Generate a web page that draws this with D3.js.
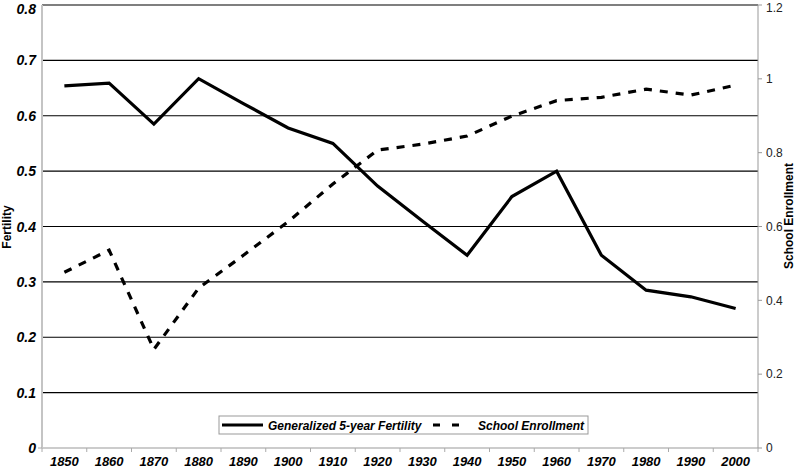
<!DOCTYPE html>
<html><head><meta charset="utf-8">
<script src="https://cdn.jsdelivr.net/npm/d3@7"></script>
<style>body{margin:0;background:#fff}svg{display:block;font-family:"Liberation Sans",Arial,sans-serif}</style>
</head><body><svg id="c" width="800" height="470"></svg>
<script>
const years = ["1850","1860","1870","1880","1890","1900","1910","1920","1930","1940","1950","1960","1970","1980","1990","2000"];
const fertility = [0.654,0.659,0.585,0.667,0.622,0.578,0.550,0.473,0.410,0.348,0.454,0.500,0.348,0.285,0.273,0.252];
const enrollment = [0.476,0.536,0.267,0.433,0.522,0.613,0.715,0.807,0.823,0.845,0.899,0.941,0.950,0.972,0.956,0.983];
const leftTicks = [0,0.1,0.2,0.3,0.4,0.5,0.6,0.7,0.8];
const rightTicks = [0,0.2,0.4,0.6,0.8,1,1.2];

const svg = d3.select("#c");
const L=42,R=758,T=5,B=448;
const x = d3.scaleBand().domain(years).range([L,R]);
const yL = d3.scaleLinear().domain([0,0.8]).range([B,T]);
const yR = d3.scaleLinear().domain([0,1.2]).range([B,T]);
const cx = d => x(d)+x.bandwidth()/2;

// gridlines
svg.append("g").selectAll("line").data(leftTicks.filter(d=>d>0)).join("line")
  .attr("x1",L).attr("x2",R).attr("y1",d=>yL(d)).attr("y2",d=>yL(d))
  .attr("stroke","#000").attr("stroke-width",1.2);

// axes lines
svg.append("line").attr("x1",L).attr("x2",R).attr("y1",B).attr("y2",B).attr("stroke","#bbb").attr("stroke-width",1.5);
svg.append("line").attr("x1",L).attr("x2",L).attr("y1",T).attr("y2",B).attr("stroke","#c4c4c4").attr("stroke-width",2);
svg.append("line").attr("x1",R).attr("x2",R).attr("y1",T).attr("y2",B).attr("stroke","#999").attr("stroke-width",1);

// x ticks at band boundaries
const bounds = years.map(d=>x(d)).concat([R]);
svg.append("g").selectAll("line").data(bounds).join("line")
  .attr("x1",d=>d).attr("x2",d=>d).attr("y1",B).attr("y2",B+4).attr("stroke","#aaa");
svg.append("line").attr("x1",L-4).attr("x2",L).attr("y1",B).attr("y2",B).attr("stroke","#aaa");

// x labels
svg.append("g").selectAll("text").data(years).join("text")
  .attr("x",d=>cx(d)).attr("y",466).attr("text-anchor","middle")
  .attr("font-size",13).attr("font-weight","bold").attr("font-style","italic").text(d=>d);

// left labels
svg.append("g").selectAll("text").data(leftTicks).join("text")
  .attr("x",36).attr("y",d=>Math.max(yL(d)+5,13.5)).attr("text-anchor","end")
  .attr("font-size",14).attr("font-weight","bold").attr("font-style","italic").text(d=>d===0?"0":d3.format(".1f")(d));

// right ticks and labels
svg.append("g").selectAll("line").data(rightTicks).join("line")
  .attr("x1",R).attr("x2",R+4).attr("y1",d=>yR(d)).attr("y2",d=>yR(d)).attr("stroke","#999");
svg.append("g").selectAll("text").data(rightTicks).join("text")
  .attr("x",766).attr("y",d=>Math.max(yR(d)+4.3,12)).attr("font-size",12).attr("fill","#222")
  .text(d=>d===0||d===1?String(d):d3.format(".1f")(d));

// axis titles
svg.append("text").attr("transform","translate(11,227) rotate(-90)").attr("text-anchor","middle")
  .attr("font-size",12).attr("font-weight","bold").text("Fertility");
svg.append("text").attr("transform","translate(793,216) rotate(-90)").attr("text-anchor","middle")
  .attr("font-size",12).attr("font-weight","bold").text("School Enrollment");

// lines
svg.append("path").datum(fertility).attr("fill","none").attr("stroke","#000").attr("stroke-width",3.2)
  .attr("stroke-linejoin","miter")
  .attr("d",d3.line().x((d,i)=>cx(years[i])).y(d=>yL(d)));
svg.append("path").datum(enrollment).attr("fill","none").attr("stroke","#000").attr("stroke-width",3.2)
  .attr("stroke-dasharray","8,8")
  .attr("d",d3.line().x((d,i)=>cx(years[i])).y(d=>yR(d)));

// legend
const lg = svg.append("g");
lg.append("rect").attr("x",219).attr("y",416).attr("width",369).attr("height",18).attr("fill","#fff").attr("stroke","#999");
lg.append("line").attr("x1",222).attr("x2",263).attr("y1",425).attr("y2",425).attr("stroke","#000").attr("stroke-width",3.2);
lg.append("text").attr("x",268).attr("y",429.5).attr("font-size",12).attr("font-weight","bold").attr("font-style","italic").text("Generalized 5-year Fertility");
lg.append("line").attr("x1",433).attr("x2",459).attr("y1",425).attr("y2",425).attr("stroke","#000").attr("stroke-width",3.2).attr("stroke-dasharray","7,12");
lg.append("text").attr("x",478).attr("y",429.5).attr("font-size",12).attr("font-weight","bold").attr("font-style","italic").text("School Enrollment");
</script></body></html>
